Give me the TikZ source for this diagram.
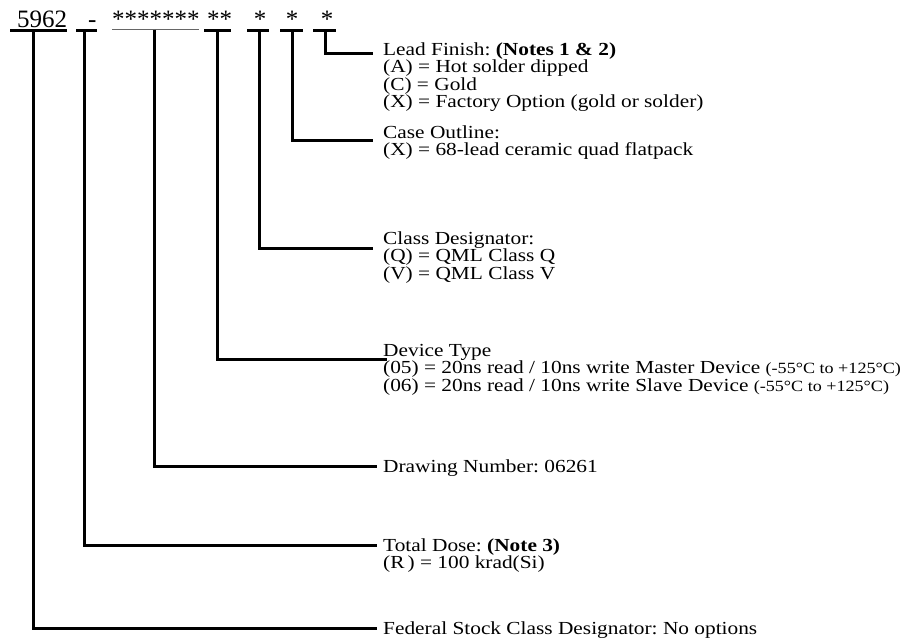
\documentclass[tikz,border=0pt]{standalone}
\usepackage{fontspec}
\setmainfont{Liberation Serif}
\newfontfamily\lblfont[FakeStretch=1.16]{Liberation Serif}
\usetikzlibrary{calc}
\newcommand\labellines[1]{\vtop{\baselineskip=17.5pt\lineskiplimit=-30pt\lineskip=0pt\halign{##\hfil\cr#1\crcr}}}
\newcommand\smalltemp{{\fontsize{15.6}{15.6}\selectfont(-55°C to +125°C)}}
\begin{document}
\frenchspacing
\begin{tikzpicture}[x=1pt,y=-1pt,
  lbl/.style={anchor=base west, inner sep=0pt, font=\lblfont\fontsize{18.4}{17.5}\selectfont\frenchspacing},
  part/.style={anchor=base west, inner sep=0pt, font=\fontsize{25}{25}\selectfont},
  bar/.style={line width=3pt},
  ulbar/.style={line width=1pt, black!60},
  conn/.style={line width=3pt}]
\useasboundingbox (0,0) rectangle (906,643);
% part codes
\node[part] (p1) at (17,27) {5962};
\node[part] (p2) at (88,27) {-};
\node[part] (p3) at (112,27) {*******};
\node[part] (p4) at (207,27) {**};
\node[part,anchor=base] (p5) at (260,27) {*};
\node[part,anchor=base] (p6) at (292,27) {*};
\node[part,anchor=base] (p7) at (327,27) {*};
% underline bars
\draw[bar] (10,30) -- (67,30);
\draw[bar] (76,30) -- (97,30);
\draw[ulbar] (112,29.5) -- (199,29.5);
\draw[bar] (204,30) -- (231,30);
\draw[bar] (247,30) -- (269,30);
\draw[bar] (280,30) -- (303,30);
\draw[bar] (313,30) -- (336,30);
\coordinate (t1) at (33,30);
\coordinate (t2) at (84.5,30);
\coordinate (t3) at (154,29.5);
\coordinate (t4) at (217,30);
\coordinate (t5) at (259,30);
\coordinate (t6) at (292,30);
\coordinate (t7) at (325,30);
% labels
\node[lbl] (l7) at (383,55) {\labellines{Lead Finish: \textbf{(Notes 1 \& 2)}\cr(A) = Hot solder dipped\cr(C) = Gold\cr(X) = Factory Option (gold or solder)}};
\node[lbl] (l6) at (383,138) {\labellines{Case Outline:\cr(X) = 68-lead ceramic quad flatpack}};
\node[lbl] (l5) at (383,244) {\labellines{Class Designator:\cr(Q) = QML Class Q\cr(V) = QML Class V}};
\node[lbl] (l4) at (383,356) {\labellines{Device Type\cr(05) = 20ns read / 10ns write Master Device \smalltemp\cr(06) = 20ns read / 10ns write Slave Device \smalltemp}};
\node[lbl] (l3) at (383,472) {Drawing Number: 06261};
\node[lbl] (l2) at (383,551) {\labellines{Total Dose: \textbf{(Note 3)}\cr(R\,) = 100 krad(Si)}};
\node[lbl] (l1) at (383,634) {Federal Stock Class Designator: No options};
% connectors
\draw[conn] (t7) |- ($(l7.base west)+(-10,-2)$);
\draw[conn] (t6) |- ($(l6.base west)+(-10,2)$);
\draw[conn] (t5) |- ($(l5.base west)+(-10,4)$);
\draw[conn] (t4) |- ($(l4.base west)+(4,3)$);
\draw[conn] (t3) |- ($(l3.base west)+(-6,-6)$);
\draw[conn] (t2) |- ($(l2.base west)+(-6,-6)$);
\draw[conn] (t1) |- ($(l1.base west)+(-6,-6)$);
\end{tikzpicture}
\end{document}
